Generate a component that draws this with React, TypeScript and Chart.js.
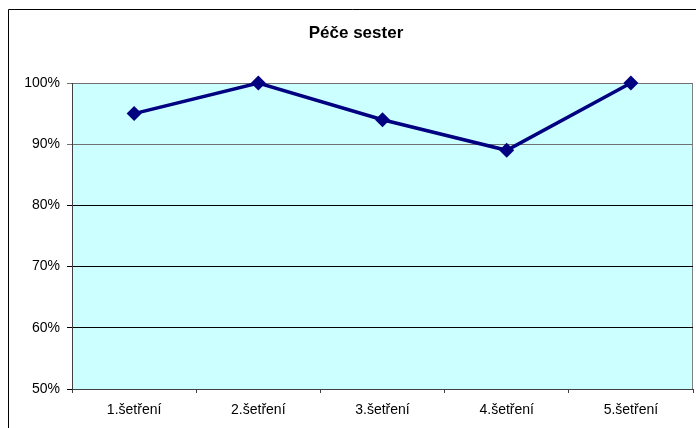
import React, { useEffect, useRef } from "react";
import { Chart, registerables } from "chart.js";

Chart.register(...registerables);

const title = "Péče sester";
const categories = ["1.šetření", "2.šetření", "3.šetření", "4.šetření", "5.šetření"];
const values = [95, 100, 94, 89, 100];
const yMin = 50;
const yMax = 100;
const yStep = 10;

const PLOT_LEFT = 72;
const PLOT_RIGHT = 693;
const PLOT_TOP = 83;
const PLOT_BOTTOM = 389;
const W = 696;
const H = 428;
const FONT = "'Liberation Sans', Arial, sans-serif";

export default function App() {
  const ref = useRef<HTMLCanvasElement | null>(null);
  useEffect(() => {
    const canvas = ref.current;
    if (!canvas) return;
    const decor = {
      id: "decor",
      beforeDraw(chart: any) {
        const { ctx, chartArea } = chart;
        ctx.save();
        ctx.fillStyle = "#ffffff";
        ctx.fillRect(0, 0, chart.width, chart.height);
        ctx.fillStyle = "#CCFFFF";
        ctx.fillRect(chartArea.left, chartArea.top, chartArea.right - chartArea.left, chartArea.bottom - chartArea.top);
        ctx.strokeStyle = "#000000";
        ctx.lineWidth = 1;
        ctx.beginPath();
        ctx.moveTo(8.5, chart.height + 5);
        ctx.lineTo(8.5, 9.5);
        ctx.lineTo(chart.width + 5, 9.5);
        ctx.stroke();
        ctx.strokeStyle = "#808080";
        ctx.beginPath();
        ctx.moveTo(chartArea.right - 0.5, chartArea.top);
        ctx.lineTo(chartArea.right - 0.5, chartArea.bottom);
        ctx.stroke();
        ctx.fillStyle = "#000000";
        ctx.font = "bold 17px " + FONT;
        ctx.textAlign = "center";
        ctx.textBaseline = "middle";
        ctx.fillText(title, 356, 33);
        ctx.restore();
      },
    };
    const chart = new Chart(canvas, {
      type: "line",
      data: {
        labels: categories,
        datasets: [
          {
            data: values,
            borderColor: "#000080",
            backgroundColor: "#000080",
            borderWidth: 3.5,
            pointStyle: "rectRot",
            pointRadius: 7.5,
            pointBorderWidth: 0,
            tension: 0,
            clip: false as any,
          },
        ],
      },
      options: {
        animation: false,
        responsive: false,
        devicePixelRatio: 1,
        layout: { autoPadding: false, padding: { left: 0, right: W - PLOT_RIGHT, top: PLOT_TOP, bottom: 0 } },
        plugins: { legend: { display: false }, title: { display: false }, tooltip: { enabled: false } },
        scales: {
          x: {
            offset: true,
            grid: { offset: true, drawOnChartArea: false, drawTicks: true, tickLength: 4, color: "#404040" },
            border: { display: true, color: "#404040", width: 1 },
            ticks: {
              color: "#000000",
              padding: 9,
              maxRotation: 0,
              font: { family: FONT, size: 14 },
            },
            afterFit(scale: any) {
              scale.height = H - PLOT_BOTTOM;
              scale.paddingRight = 0;
              scale.paddingLeft = 0;
            },
          },
          y: {
            min: yMin,
            max: yMax,
            ticks: {
              stepSize: yStep,
              color: "#000000",
              padding: 7,
              font: { family: FONT, size: 14 },
              callback: (v: any) => v + "%",
            },
            grid: {
              color: (c: any) => (c.tick && c.tick.value >= 90 ? "#707070" : "#000000"),
              tickLength: 5,
              drawTicks: true,
            },
            border: { display: true, color: "#404040", width: 1 },
            afterFit(scale: any) {
              scale.width = PLOT_LEFT;
            },
          },
        },
      },
      plugins: [decor],
    });
    return () => chart.destroy();
  }, []);
  return (
    <canvas
      ref={ref}
      width={W}
      height={H}
      style={{ position: "absolute", left: 0, top: 0, width: W, height: H }}
    />
  );
}
